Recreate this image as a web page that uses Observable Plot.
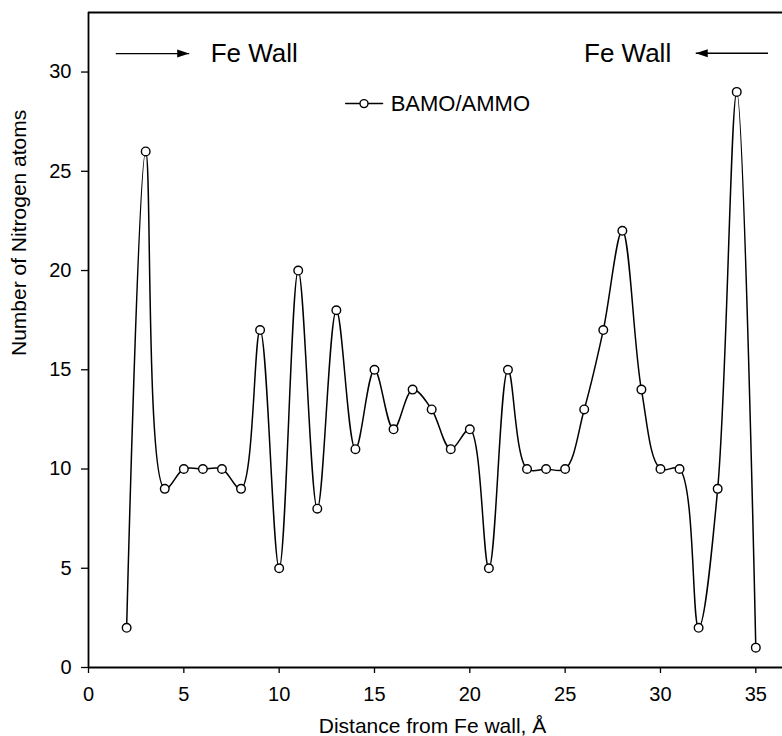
<!DOCTYPE html>
<html><head><meta charset="utf-8">
<script src="https://cdn.jsdelivr.net/npm/d3@7"></script>
<script src="https://cdn.jsdelivr.net/npm/@observablehq/plot@0.6"></script>
<style>body{margin:0;background:#fff} svg{display:block}</style>
</head><body><div id="chart"></div>
<script>
// Data
const distance = [2,3,4,5,6,7,8,9,10,11,12,13,14,15,16,17,18,19,20,21,22,23,24,25,26,27,28,29,30,31,32,33,34,35];
const nitrogen = [2,26,9,10,10,10,9,17,5,20,8,18,11,15,12,14,13,11,12,5,15,10,10,10,13,17,22,14,10,10,2,9,29,1];
const xTicks = [0,5,10,15,20,25,30,35];
const yTicks = [0,5,10,15,20,25,30];
const xDomain = [0, 36.4];
const yDomain = [0, 33];
const seriesName = ["BAMO/AMMO"];
const xTitle = ["Distance from Fe wall, Å"];
const yTitle = ["Number of Nitrogen atoms"];
// Annotations (data coordinates)
const wallLabels = ["Fe Wall", "Fe Wall"];
const wallLabelX = [6.41, 25.99];
const wallLabelY = [30.95, 30.95];
const arrowFromX = [1.43, 35.64];
const arrowToX = [5.28, 31.85];
const arrowY = [30.93, 30.95];
const legendLineX = [13.49, 15.42];
const legendDotX = [14.45];
const legendTextX = [15.85];
const legendY = [28.41];

const FONT = "'Liberation Sans', Arial, Helvetica, sans-serif";
const headRight = {draw(ctx){ ctx.moveTo(0,0); ctx.lineTo(-12,-4); ctx.lineTo(-12,4); ctx.closePath(); }};
const headLeft = {draw(ctx){ ctx.moveTo(0,0); ctx.lineTo(12,-4); ctx.lineTo(12,4); ctx.closePath(); }};

const chart = Plot.plot({
  width: 782,
  height: 736,
  marginLeft: 88,
  marginRight: 0,
  marginTop: 12,
  marginBottom: 69,
  style: {fontFamily: FONT, background: "#fff", color: "#000"},
  x: {domain: xDomain},
  y: {domain: yDomain},
  marks: [
    Plot.ruleY([yDomain[1]], {stroke: "#000", strokeWidth: 1.8}),
    Plot.ruleY([0], {stroke: "#000", strokeWidth: 1.8}),
    Plot.ruleX([0], {stroke: "#000", strokeWidth: 1.8}),
    Plot.axisX({ticks: xTicks, tickSize: 6, tickPadding: 13, fontSize: 20, stroke: "#000", strokeWidth: 1.3, label: null}),
    Plot.axisY({ticks: yTicks, tickSize: 7, tickPadding: 10, fontSize: 20, stroke: "#000", strokeWidth: 1.3, label: null}),
    Plot.text(xTitle, {frameAnchor: "bottom", text: xTitle, dx: -3, dy: 65, lineAnchor: "bottom", fontSize: 21, fill: "#000"}),
    Plot.text(yTitle, {frameAnchor: "left", text: yTitle, rotate: -90, dx: -69, dy: 16, lineAnchor: "middle", fontSize: 21, fill: "#000"}),
    Plot.line(nitrogen, {x: distance, y: nitrogen, curve: "catmull-rom", stroke: "#000", strokeWidth: 1.5}),
    Plot.dot(nitrogen, {x: distance, y: nitrogen, r: 4.3, fill: "#fff", stroke: "#000", strokeWidth: 1.4}),
    // legend
    Plot.line(legendLineX, {x: legendLineX, y: legendLineX.map(() => legendY[0]), stroke: "#000", strokeWidth: 1.5}),
    Plot.dot(legendDotX, {x: legendDotX, y: legendY, r: 4, fill: "#fff", stroke: "#000", strokeWidth: 1.4}),
    Plot.text(seriesName, {x: legendTextX, y: legendY, text: seriesName, textAnchor: "start", lineAnchor: "middle", fontSize: 22, fill: "#000"}),
    // Fe wall annotations
    Plot.text(wallLabels, {x: wallLabelX, y: wallLabelY, text: wallLabels, textAnchor: "start", lineAnchor: "middle", fontSize: 26, fill: "#000"}),
    Plot.link(arrowFromX, {x1: arrowFromX, x2: arrowToX, y1: arrowY, y2: arrowY, stroke: "#000", strokeWidth: 1.4}),
    Plot.dot([arrowToX[0]], {x: [arrowToX[0]], y: [arrowY[0]], symbol: headRight, fill: "#000", stroke: "none"}),
    Plot.dot([arrowToX[1]], {x: [arrowToX[1]], y: [arrowY[1]], symbol: headLeft, fill: "#000", stroke: "none"})
  ]
});
document.getElementById("chart").appendChild(chart);
</script>
</body></html>
